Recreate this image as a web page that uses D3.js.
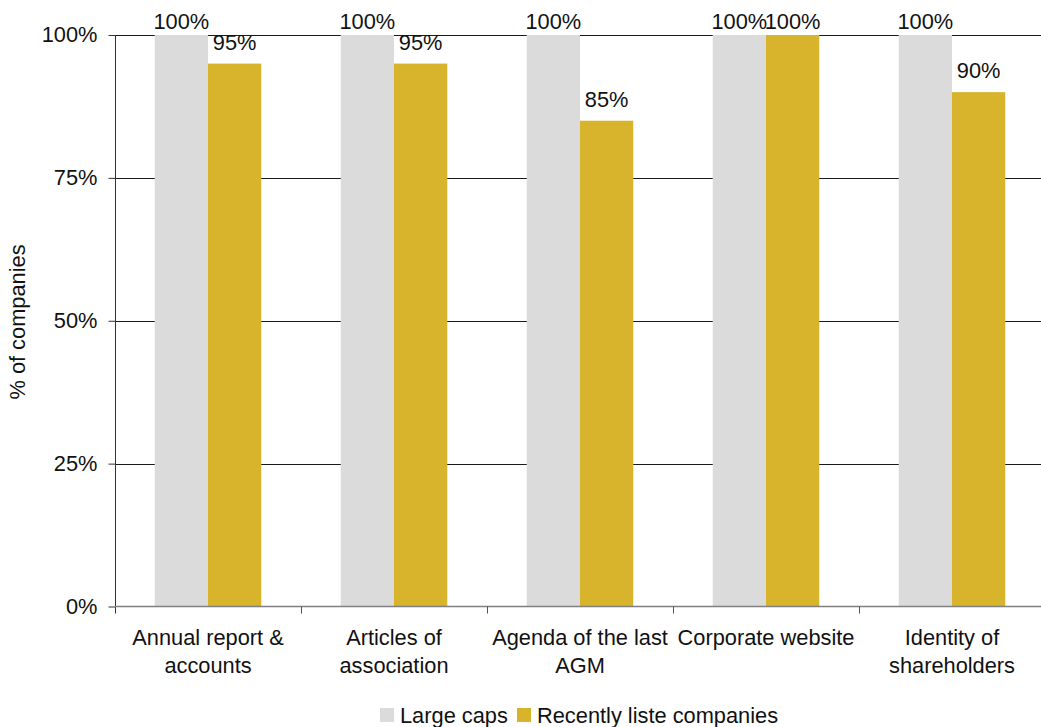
<!DOCTYPE html>
<html>
<head>
<meta charset="utf-8">
<script src="https://cdn.jsdelivr.net/npm/d3@7"></script>
<style>
  html, body { margin: 0; padding: 0; background: #fff; }
  svg { display: block; font-family: "Liberation Sans", Arial, sans-serif; }
</style>
</head>
<body>
<svg id="chart" width="1041" height="727"></svg>
<script>
// Disclosure items shown on the x axis (each label split over two lines)
const categories = [
  ["Annual report &", "accounts"],
  ["Articles of", "association"],
  ["Agenda of the last", "AGM"],
  ["Corporate website"],
  ["Identity of", "shareholders"]
];
const seriesNames = ["Large caps", "Recently liste companies"];
const largeCaps = [100, 100, 100, 100, 100];
const recentlyListed = [95, 95, 85, 100, 90];
const yTicks = [0, 25, 50, 75, 100];
const colors = ["#dbdbdb", "#d8b42d"];

const FONT = "'Liberation Sans', Arial, sans-serif";
const FS = 21.8;

const svg = d3.select("#chart");
const plot = { left: 115, right: 1045, top: 35, bottom: 606.5 };
const keys = categories.map(c => c.join(" "));

const x0 = d3.scaleBand().domain(keys).range([plot.left, plot.right]).paddingInner(0).paddingOuter(0);
const x1 = d3.scaleBand().domain(seriesNames).range([0, x0.bandwidth()]).paddingInner(0).paddingOuter(0.746);
const y = d3.scaleLinear().domain([0, 100]).range([plot.bottom, plot.top]);

// Horizontal gridlines
svg.append("g")
  .selectAll("line")
  .data(yTicks.filter(t => t > 0))
  .join("line")
  .attr("x1", plot.left).attr("x2", plot.right)
  .attr("y1", d => Math.round(y(d)) + 0.5).attr("y2", d => Math.round(y(d)) + 0.5)
  .attr("stroke", "#1a1a1a").attr("stroke-width", 1);

// Bars
const rows = keys.map((k, i) => ({ key: k, values: [largeCaps[i], recentlyListed[i]] }));
const groups = svg.append("g")
  .selectAll("g")
  .data(rows)
  .join("g")
  .attr("transform", d => `translate(${x0(d.key)},0)`);

groups.selectAll("rect")
  .data(d => d.values.map((v, j) => ({ name: seriesNames[j], value: v, j })))
  .join("rect")
  .attr("x", d => x1(d.name))
  .attr("width", x1.bandwidth())
  .attr("y", d => y(d.value))
  .attr("height", d => y(0) - y(d.value))
  .attr("fill", d => colors[d.j]);

// Value labels above bars, kept inside the top of the chart area
groups.selectAll("text")
  .data(d => d.values.map((v, j) => ({ name: seriesNames[j], value: v })))
  .join("text")
  .attr("x", d => x1(d.name) + x1.bandwidth() / 2)
  .attr("y", d => Math.max(y(d.value) - 14, plot.top - 6))
  .attr("text-anchor", "middle")
  .attr("font-family", FONT)
  .attr("font-size", FS)
  .attr("fill", "#111")
  .text(d => d.value + "%");

// Y axis
const yAxis = svg.append("g")
  .attr("transform", `translate(${plot.left + 0.5},0)`)
  .call(d3.axisLeft(y).tickValues(yTicks).tickFormat(d => d + "%").tickSize(7).tickPadding(11));
yAxis.select(".domain").attr("stroke", "#333").attr("d", `M0,${plot.top}V${plot.bottom + 7}`);
yAxis.selectAll(".tick line").attr("stroke", "#333");
yAxis.selectAll(".tick text").attr("font-size", FS).attr("fill", "#111").attr("font-family", FONT);

// X axis with tick marks on category boundaries
const xg = svg.append("g");
xg.append("line")
  .attr("x1", plot.left).attr("x2", plot.right)
  .attr("y1", plot.bottom).attr("y2", plot.bottom)
  .attr("stroke", "#808080").attr("stroke-width", 1.5);
xg.selectAll("line.tick")
  .data(keys.slice(1).map(k => x0(k)).concat([plot.right - 0.5]))
  .join("line")
  .attr("class", "tick")
  .attr("x1", d => Math.round(d) + 0.5).attr("x2", d => Math.round(d) + 0.5)
  .attr("y1", plot.bottom).attr("y2", plot.bottom + 7)
  .attr("stroke", "#555");

// Category labels
xg.selectAll("text")
  .data(categories.map((c, i) => ({ lines: c, key: keys[i] })))
  .join("text")
  .attr("text-anchor", "middle")
  .attr("font-family", FONT)
  .attr("font-size", FS)
  .attr("fill", "#111")
  .each(function(d) {
    const t = d3.select(this);
    d.lines.forEach((line, li) => {
      t.append("tspan")
        .attr("x", x0(d.key) + x0.bandwidth() / 2)
        .attr("y", 645 + li * 28)
        .text(line);
    });
  });

// Y axis title
svg.append("text")
  .attr("transform", "translate(25,322) rotate(-90)")
  .attr("text-anchor", "middle")
  .attr("font-family", FONT)
  .attr("font-size", FS)
  .attr("fill", "#111")
  .text("% of companies");

// Legend
const legend = svg.append("g").attr("transform", "translate(380,708)");
const lx = [0, 137];
seriesNames.forEach((name, i) => {
  const g = legend.append("g").attr("transform", `translate(${lx[i]},0)`);
  g.append("rect").attr("width", 14).attr("height", 14).attr("fill", colors[i]);
  g.append("text").attr("x", 20).attr("y", 15).attr("font-family", FONT).attr("font-size", FS).attr("fill", "#111").text(name);
});
</script>
</body>
</html>
